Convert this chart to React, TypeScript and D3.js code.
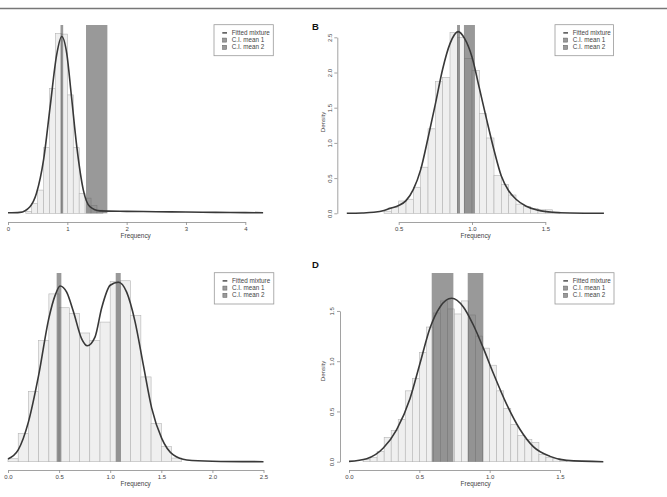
import React, { useEffect, useRef } from "react";
import * as d3 from "d3";

// ---------------- Data ----------------
const legendLabels = ["Fitted mixture", "C.I. mean 1", "C.I. mean 2"];

// Panel A (top-left)
const aXTicks = [0, 1, 2, 3, 4];
const aBinStart = 0.3;
const aBinWidth = 0.1;
const aBarDensity = [0.025, 0.125, 0.29, 0.82, 1.56, 2.25, 2.24, 1.48, 0.82, 0.25, 0.19, 0.1, 0.04];
const aCurveFreq = [0.0, 0.2, 0.37, 0.48, 0.6, 0.71, 0.82, 0.905, 0.99, 1.07, 1.16, 1.27, 1.38, 1.55, 2.0, 2.5, 3.0, 3.5, 4.0, 4.3];
const aCurveDensity = [0.006, 0.012, 0.083, 0.25, 0.67, 1.33, 1.98, 2.21, 2.0, 1.46, 0.83, 0.29, 0.083, 0.03, 0.024, 0.02, 0.016, 0.012, 0.009, 0.007];
const aCIMean1 = [0.885, 0.93];
const aCIMean2 = [1.315, 1.675];

// Panel B (top-right)
const bXTicks = [0.5, 1.0, 1.5];
const bYTicks = [0, 0.5, 1.0, 1.5, 2.0, 2.5];
const bBinStart = 0.4;
const bBinWidth = 0.05;
const bBarDensity = [0.03, 0.08, 0.175, 0.2, 0.37, 0.655, 1.2, 1.87, 1.93, 2.57, 2.5, 2.2, 2.03, 1.42, 1.07, 0.54, 0.41, 0.26, 0.13, 0.095, 0.07, 0.05, 0.05, 0.02];
const bCurveFreq = [0.146, 0.25, 0.33, 0.4, 0.44, 0.5, 0.55, 0.6, 0.65, 0.7, 0.75, 0.8, 0.85, 0.906, 0.95, 1.0, 1.05, 1.1, 1.15, 1.2, 1.25, 1.3, 1.37, 1.45, 1.55, 1.67, 1.9];
const bCurveDensity = [0.0, 0.004, 0.014, 0.04, 0.07, 0.11, 0.18, 0.34, 0.62, 1.07, 1.55, 2.05, 2.41, 2.58, 2.48, 2.22, 1.78, 1.33, 0.9, 0.53, 0.32, 0.2, 0.1, 0.045, 0.015, 0.005, 0.0];
const bCIMean1 = [0.898, 0.918];
const bCIMean2 = [0.945, 1.02];

// Panel C (bottom-left)
const cXTicks = [0, 0.5, 1.0, 1.5, 2.0, 2.5];
const cBinStart = 0.0;
const cBinWidth = 0.1;
const cBarDensity = [0.017, 0.162, 0.406, 0.7, 0.97, 0.89, 0.857, 0.744, 0.7, 0.807, 1.042, 1.046, 0.844, 0.49, 0.22, 0.087, 0.021];
const cCurveFreq = [0.0, 0.1, 0.2, 0.3, 0.4, 0.46, 0.51, 0.574, 0.639, 0.721, 0.776, 0.851, 0.917, 1.0, 1.08, 1.161, 1.243, 1.324, 1.406, 1.504, 1.618, 1.75, 2.0, 2.5];
const cCurveDensity = [0.016, 0.068, 0.23, 0.5, 0.83, 0.96, 1.016, 0.98, 0.87, 0.71, 0.67, 0.72, 0.89, 1.02, 1.037, 0.98, 0.81, 0.56, 0.31, 0.135, 0.039, 0.01, 0.003, 0.0];
const cCIMean1 = [0.476, 0.522];
const cCIMean2 = [1.054, 1.103];

// Panel D (bottom-right)
const dXTicks = [0, 0.5, 1.0, 1.5];
const dYTicks = [0, 0.5, 1.0, 1.5];
const dBinStart = 0.1;
const dBinWidth = 0.05;
const dBarDensity = [0.02, 0.04, 0.1, 0.24, 0.31, 0.42, 0.705, 0.83, 1.086, 1.34, 1.48, 1.6, 1.52, 1.47, 1.6, 1.46, 1.25, 1.13, 0.96, 0.705, 0.53, 0.37, 0.26, 0.22, 0.19, 0.07, 0.04, 0.03, 0.01];
const dCurveFreq = [0.0, 0.126, 0.244, 0.339, 0.434, 0.505, 0.576, 0.647, 0.73, 0.813, 0.884, 0.955, 1.026, 1.121, 1.216, 1.31, 1.429, 1.547, 1.808];
const dCurveDensity = [0.003, 0.03, 0.136, 0.32, 0.63, 0.98, 1.33, 1.54, 1.626, 1.54, 1.36, 1.13, 0.88, 0.57, 0.32, 0.15, 0.053, 0.013, 0.0];
const dCIMean1 = [0.588, 0.742];
const dCIMean2 = [0.844, 0.955];

// ---------------- Styling / layout ----------------
const FONT = '"Liberation Sans", Arial, Helvetica, sans-serif';
const AXIS_COLOR = "#8a8a8a";
const TEXT_COLOR = "#444";

type PanelDef = {
  binStart: number;
  binWidth: number;
  bars: number[];
  curveX: number[];
  curveY: number[];
  ci1: number[];
  ci2: number[];
  xTicks: number[];
  yTicks?: number[];
  xFmt: (v: number) => string;
  layout: {
    xDomain: [number, number];
    xRange: [number, number];
    baseline: number;
    pxPerUnit: number;
    plotTop: number;
    xAxisY: number;
    yAxisX?: number;
    legend: { x: number; y: number; w: number; h: number };
    letter?: { text: string; x: number; y: number };
    freqLabel: { x: number; y: number };
    densityLabel?: { x: number; y: number };
  };
};

const fmt1 = d3.format(".1f");
const fmt0 = d3.format("d");

const panels: PanelDef[] = [
  {
    binStart: aBinStart, binWidth: aBinWidth, bars: aBarDensity,
    curveX: aCurveFreq, curveY: aCurveDensity, ci1: aCIMean1, ci2: aCIMean2,
    xTicks: aXTicks, xFmt: fmt0,
    layout: {
      xDomain: [0, 4], xRange: [8, 245.3], baseline: 213.3, pxPerUnit: 80, plotTop: 25,
      xAxisY: 222, legend: { x: 214, y: 24.7, w: 59.3, h: 31 },
      freqLabel: { x: 135.7, y: 237.5 },
    },
  },
  {
    binStart: bBinStart, binWidth: bBinWidth, bars: bBarDensity,
    curveX: bCurveFreq, curveY: bCurveDensity, ci1: bCIMean1, ci2: bCIMean2,
    xTicks: bXTicks, yTicks: bYTicks, xFmt: fmt1,
    layout: {
      xDomain: [0.5, 1.5], xRange: [398.7, 545.3], baseline: 213.3, pxPerUnit: 70.4, plotTop: 25,
      xAxisY: 222, yAxisX: 337.3, legend: { x: 555, y: 24.7, w: 58.5, h: 31 },
      letter: { text: "B", x: 312, y: 29.5 },
      freqLabel: { x: 475.7, y: 237.5 }, densityLabel: { x: 325.3, y: 122 },
    },
  },
  {
    binStart: cBinStart, binWidth: cBinWidth, bars: cBarDensity,
    curveX: cCurveFreq, curveY: cCurveDensity, ci1: cCIMean1, ci2: cCIMean2,
    xTicks: cXTicks, xFmt: fmt1,
    layout: {
      xDomain: [0, 2.5], xRange: [8, 263.5], baseline: 461.7, pxPerUnit: 173, plotTop: 273,
      xAxisY: 470, legend: { x: 214.3, y: 272.7, w: 59.5, h: 31.3 },
      freqLabel: { x: 135.7, y: 485.8 },
    },
  },
  {
    binStart: dBinStart, binWidth: dBinWidth, bars: dBarDensity,
    curveX: dCurveFreq, curveY: dCurveDensity, ci1: dCIMean1, ci2: dCIMean2,
    xTicks: dXTicks, yTicks: dYTicks, xFmt: fmt1,
    layout: {
      xDomain: [0, 1.5], xRange: [349, 560], baseline: 461.7, pxPerUnit: 100.5, plotTop: 273,
      xAxisY: 470, yAxisX: 340, legend: { x: 555, y: 272.7, w: 59, h: 31.3 },
      letter: { text: "D", x: 312, y: 267.5 },
      freqLabel: { x: 475.7, y: 485.8 }, densityLabel: { x: 325.3, y: 371 },
    },
  },
];

function XAxis({ scale, ticks, fmt, y }: any) {
  const ref = useRef<SVGGElement>(null);
  useEffect(() => {
    const axScale = d3
      .scaleLinear()
      .domain([ticks[0], ticks[ticks.length - 1]])
      .range([scale(ticks[0]), scale(ticks[ticks.length - 1])]);
    const g = d3.select(ref.current!);
    g.call(
      d3.axisBottom(axScale).tickValues(ticks).tickSize(3).tickSizeOuter(0).tickPadding(2.2).tickFormat(fmt)
    );
    g.attr("font-family", FONT).attr("font-size", 6);
    g.select(".domain").attr("stroke", AXIS_COLOR).attr("stroke-width", 0.8);
    g.selectAll(".tick line").attr("stroke", AXIS_COLOR).attr("stroke-width", 0.8);
    g.selectAll(".tick text").attr("fill", TEXT_COLOR);
  }, []);
  return <g ref={ref} transform={`translate(0,${y})`} />;
}

function YAxis({ scale, ticks, x }: any) {
  const ref = useRef<SVGGElement>(null);
  useEffect(() => {
    const axScale = d3
      .scaleLinear()
      .domain([ticks[0], ticks[ticks.length - 1]])
      .range([scale(ticks[0]), scale(ticks[ticks.length - 1])]);
    const g = d3.select(ref.current!);
    g.call(d3.axisLeft(axScale).tickValues(ticks).tickSize(3).tickSizeOuter(0).tickFormat(fmt1 as any));
    g.attr("font-family", FONT).attr("font-size", 6);
    g.select(".domain").attr("stroke", AXIS_COLOR).attr("stroke-width", 0.8);
    g.selectAll(".tick line").attr("stroke", AXIS_COLOR).attr("stroke-width", 0.8);
    g.selectAll(".tick text")
      .attr("fill", TEXT_COLOR)
      .attr("transform", "rotate(-90)")
      .attr("x", 0)
      .attr("y", -5.6)
      .attr("dy", 0)
      .attr("text-anchor", "middle");
  }, []);
  return <g ref={ref} transform={`translate(${x},0)`} />;
}

function Legend({ box }: any) {
  const rowY = [8.2, 15.4, 22.6];
  return (
    <g transform={`translate(${box.x},${box.y})`} fontFamily={FONT}>
      <rect x={0} y={0} width={box.w} height={box.h} fill="#fff" stroke="#9a9a9a" strokeWidth={0.8} />
      {legendLabels.map((lab, i) => (
        <g key={lab}>
          {i === 0 ? (
            <line x1={8.3} x2={13} y1={rowY[i]} y2={rowY[i]} stroke="#333" strokeWidth={1.3} />
          ) : (
            <rect x={8.6} y={rowY[i] - 2} width={4} height={4} fill="#9a9a9a" stroke="#6a6a6a" strokeWidth={0.6} />
          )}
          <text x={17.7} y={rowY[i] + 2.2} fontSize={6.3} fill={TEXT_COLOR}>
            {lab}
          </text>
        </g>
      ))}
    </g>
  );
}

function Panel({ p }: { p: PanelDef }) {
  const L = p.layout;
  const x = d3.scaleLinear().domain(L.xDomain).range(L.xRange);
  const y = d3
    .scaleLinear()
    .domain([0, 1])
    .range([L.baseline, L.baseline - L.pxPerUnit]);
  const pts: [number, number][] = p.curveX.map((f, i) => [f, p.curveY[i]]);
  const line = d3
    .line<[number, number]>()
    .x((d) => x(d[0]))
    .y((d) => y(d[1]))
    .curve(d3.curveMonotoneX);
  const ciRects = [p.ci1, p.ci2];
  return (
    <g>
      {p.bars.map((v, i) => {
        const lo = p.binStart + i * p.binWidth;
        const hi = lo + p.binWidth;
        return (
          <rect
            key={i}
            x={x(lo)}
            y={y(v)}
            width={x(hi) - x(lo)}
            height={y(0) - y(v)}
            fill="#efefef"
            stroke="#b4b4b4"
            strokeWidth={0.6}
          />
        );
      })}
      {ciRects.map((ci, i) => (
        <rect
          key={"ci" + i}
          x={x(ci[0])}
          y={L.plotTop}
          width={x(ci[1]) - x(ci[0])}
          height={y(0) - L.plotTop}
          fill="#555"
          fillOpacity={0.6}
        />
      ))}
      <path d={line(pts) || ""} fill="none" stroke="#383838" strokeWidth={1.6} />
      <XAxis scale={x} ticks={p.xTicks} fmt={p.xFmt} y={L.xAxisY} />
      {p.yTicks && L.yAxisX !== undefined && <YAxis scale={y} ticks={p.yTicks} x={L.yAxisX} />}
      <text
        x={L.freqLabel.x}
        y={L.freqLabel.y}
        textAnchor="middle"
        fontFamily={FONT}
        fontSize={6.4}
        fill={TEXT_COLOR}
      >
        Frequency
      </text>
      {L.densityLabel && (
        <text
          transform={`translate(${L.densityLabel.x},${L.densityLabel.y}) rotate(-90)`}
          textAnchor="middle"
          fontFamily={FONT}
          fontSize={6.2}
          fill={TEXT_COLOR}
        >
          Density
        </text>
      )}
      {L.letter && (
        <text x={L.letter.x} y={L.letter.y} fontFamily={FONT} fontWeight="bold" fontSize={9.5} fill="#111">
          {L.letter.text}
        </text>
      )}
      <Legend box={L.legend} />
    </g>
  );
}

export default function App() {
  return (
    <svg
      width={667}
      height={497}
      viewBox="0 0 667 497"
      style={{ position: "absolute", left: 0, top: 0, background: "#fff" }}
    >
      <rect x={0} y={0} width={667} height={497} fill="#fff" />
      <line x1={0} x2={667} y1={8.5} y2={8.5} stroke="#777" strokeWidth={1.3} />
      {panels.map((p, i) => (
        <Panel key={i} p={p} />
      ))}
    </svg>
  );
}
